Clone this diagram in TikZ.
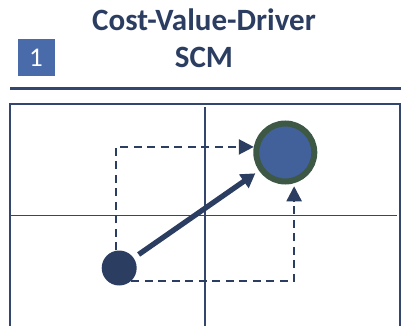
\documentclass[tikz,border=0pt]{standalone}
\usepackage{fontspec}
\setmainfont{Carlito}
\usetikzlibrary{arrows.meta, positioning}
\definecolor{navy}{HTML}{2C3D62}
\definecolor{gridline}{HTML}{34466E}
\definecolor{tagblue}{HTML}{4A6BAA}
\definecolor{dotblue}{HTML}{42619B}
\definecolor{ringgreen}{HTML}{3E5846}

\begin{document}
\begin{tikzpicture}[x=1pt, y=-1pt,
        titletext/.style={text=navy, font=\bfseries\fontsize{31}{37}\selectfont, align=center},
        tagbox/.style={fill=tagblue, text=white, minimum size=37pt, inner sep=0pt, font=\fontsize{27}{30}\selectfont},
        startdot/.style={circle, fill=navy, minimum size=35pt, inner sep=0pt},
        targetdot/.style={circle, fill=dotblue, draw=ringgreen, line width=6pt, minimum size=58pt, inner sep=0pt},
        gridrule/.style={draw=gridline, line width=1.8pt},
        dashedpath/.style={navy, line width=2.4pt, dash pattern=on 8pt off 5.5pt, -{Triangle[length=15pt, width=15pt]}},
        movearrow/.style={navy, line width=5.3pt, -{Triangle[length=14pt, width=16pt]}}]
    \useasboundingbox (0,0) rectangle (402,326);
    % heading
    \node[titletext] (title) at (204,38) {Cost-Value-Driver\\SCM};
    \node[tagbox] (tag) at (36,57.5) {1};
    \draw[gridline, line width=2.2pt] (10,88.5) -- (401,88.5);
    % frame and quadrants
    \draw[gridrule] (10,326) |- (400,104) -- (400,326);
    \draw[gridrule] (10,215.5) -- (397,215.5);
    \draw[gridrule] (205,107) -- (205,326);
    % positions
    \node[startdot] (start) at (119.2,268) {};
    \node[targetdot] (target) at (285.3,152.5) {};
    % moves
    \draw[dashedpath] ([xshift=-3.5pt]start.north) |- (target.170);
    \draw[dashedpath, shorten >=3pt] (start.-47) -| (target.-74);
    \draw[movearrow, shorten <=6pt, shorten >=4.5pt] (start) -- (target);
\end{tikzpicture}
\end{document}
